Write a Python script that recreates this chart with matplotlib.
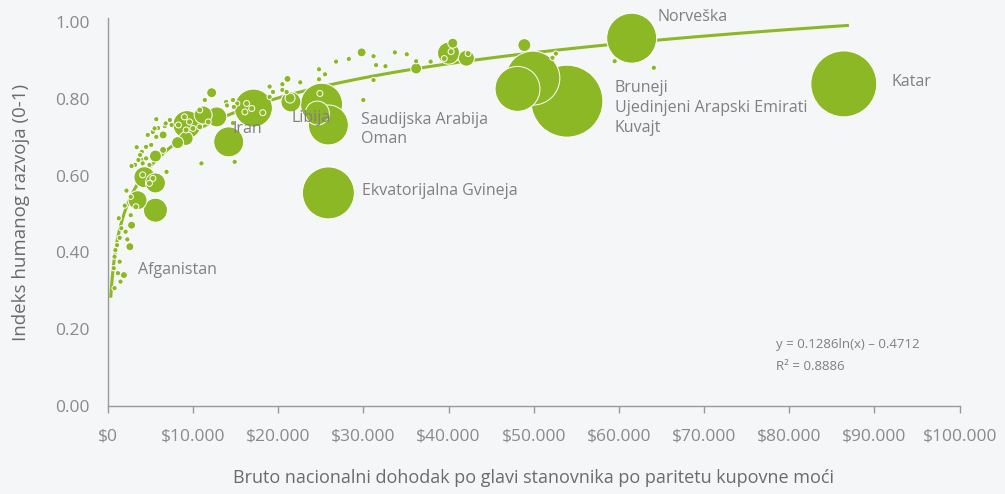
import matplotlib
matplotlib.use("Agg")
import matplotlib.pyplot as plt
import numpy as np
from matplotlib.ticker import FuncFormatter, MultipleLocator

# Bruto nacionalni dohodak po glavi (PPP, $), indeks humanog razvoja, velicina mjehurica
bdp_veliki = [61500, 86400, 53900, 49900, 48100, 25900, 25900, 25100, 24600, 21500,
              21400, 17100, 14200, 9300, 12800, 11200, 12200, 9200, 8200, 5600,
              6500, 6500, 4300, 5600, 3500, 5600, 2800, 2600, 1900, 29800,
              40000, 40500, 42100, 36200, 48900, 21100]
hdi_veliki = [0.958, 0.839, 0.794, 0.854, 0.826, 0.555, 0.732, 0.786, 0.763, 0.792,
              0.802, 0.776, 0.688, 0.733, 0.753, 0.758, 0.816, 0.697, 0.686, 0.651,
              0.706, 0.667, 0.596, 0.581, 0.536, 0.510, 0.471, 0.415, 0.341, 0.921,
              0.919, 0.945, 0.906, 0.879, 0.940, 0.852]
vel_veliki = [625, 1089, 1296, 729, 506, 676, 400, 441, 144, 100,
              25, 361, 225, 196, 100, 81, 25, 49, 36, 36,
              16, 12, 110, 100, 90, 144, 16, 16, 12, 20,
              121, 25, 64, 30, 42, 12]

# mali mjehurici unutar skupina (vide se kao bijeli prstenovi)
bdp_prsten = [8300, 9000, 9600, 9200, 10000, 10800, 11800, 10800, 16300, 16900,
              16100, 18200, 4100, 5300, 4900, 3300, 24900, 40300, 39500, 42300]
hdi_prsten = [0.732, 0.753, 0.740, 0.719, 0.723, 0.727, 0.740, 0.771, 0.788, 0.775,
              0.766, 0.764, 0.602, 0.593, 0.580, 0.519, 0.814, 0.923, 0.905, 0.918]

# male tocke
bdp_male = [11000, 14900, 6900, 5700, 7300, 7500, 6700, 5900, 5300, 4700,
            5700, 5100, 4500, 4000, 3400, 3800, 4100, 3200, 4900, 11400,
            13900, 14700, 19000, 19400, 19000, 14700, 26800, 28300, 31200, 31500,
            32600, 31200, 30000, 24800, 25500, 24800, 22600, 20500, 20500, 21000,
            33700, 35100, 36200, 37900, 52600, 52200, 59500, 64100, 15200, 14000,
            14800, 1200, 800, 1400, 1100, 1400, 2300, 1600, 2100, 1300,
            2700, 2000, 2700, 2200, 2800, 3800, 5500, 6800, 800, 1500,
            700, 900, 4500, 4100, 3600]
hdi_male = [0.632, 0.636, 0.610, 0.747, 0.745, 0.732, 0.729, 0.724, 0.714, 0.706,
            0.701, 0.680, 0.675, 0.662, 0.674, 0.646, 0.641, 0.628, 0.628, 0.797,
            0.792, 0.797, 0.832, 0.818, 0.805, 0.737, 0.897, 0.904, 0.911, 0.888,
            0.885, 0.849, 0.797, 0.877, 0.864, 0.851, 0.843, 0.838, 0.823, 0.818,
            0.921, 0.916, 0.898, 0.897, 0.918, 0.907, 0.898, 0.881, 0.788, 0.783,
            0.779, 0.346, 0.389, 0.376, 0.419, 0.438, 0.434, 0.463, 0.454, 0.489,
            0.497, 0.522, 0.545, 0.561, 0.625, 0.654, 0.723, 0.736, 0.307, 0.324,
            0.359, 0.406, 0.645, 0.632, 0.641]

# oznake drzava (tekst, bdp, hdi)
oznake = [
    ("Norveška", 64500, 1.013),
    ("Katar", 92000, 0.844),
    ("Bruneji", 59500, 0.828),
    ("Ujedinjeni Arapski Emirati", 59500, 0.776),
    ("Kuvajt", 59500, 0.725),
    ("Saudijska Arabija", 29700, 0.745),
    ("Oman", 29700, 0.695),
    ("Ekvatorijalna Gvineja", 29800, 0.56),
    ("Libija", 21600, 0.75),
    ("Iran", 14600, 0.721),
    ("Afganistan", 3600, 0.354),
]

koef_a, koef_b = 0.1286, -0.4712
r2 = 0.8886

GREEN = "#8db825"
BG = "#f5f6f8"
TICK = "#8a8a8a"
LABEL = "#6b6b6b"
TEXT = "#808080"

plt.rcParams["font.family"] = ["Open Sans", "DejaVu Sans"]

fig = plt.figure(figsize=(10.05, 4.94), dpi=100, facecolor=BG)
ax = fig.add_axes([0.1072, 0.1781, 0.8477, 0.785])
ax.set_facecolor(BG)

bubble_scale = 2.07  # px^2 -> pt^2 (diameter)
x_all = np.array(bdp_veliki + bdp_prsten + bdp_male, dtype=float)
y_all = np.array(hdi_veliki + hdi_prsten + hdi_male, dtype=float)
v_all = np.array(vel_veliki + [9] * len(bdp_prsten) + [7] * len(bdp_male), dtype=float)
order = np.argsort(-v_all, kind="stable")
ax.scatter(x_all[order], y_all[order], s=v_all[order] * bubble_scale,
           c=GREEN, edgecolors="white", linewidths=0.7, zorder=3, clip_on=False)

# logaritamska linija trenda
xs = np.linspace(350, 87000, 600)
ax.plot(xs, koef_a * np.log(xs) + koef_b, color=GREEN, lw=2.2, zorder=2,
        solid_capstyle="butt")

for txt, x, y in oznake:
    ax.text(x, y, txt, fontsize=11.5, color=TEXT, va="center", ha="left", zorder=5)

ax.text(78400, 0.159, f"y = {koef_a}ln(x) \u2013 {abs(koef_b)}", fontsize=9.5, color=TEXT,
        va="center", ha="left")
ax.text(78400, 0.102, f"R\u00b2 = {r2}", fontsize=9.5, color=TEXT,
        va="center", ha="left")

ax.set_xlim(0, 100000)
ax.set_ylim(0, 1.01)
ax.xaxis.set_major_locator(MultipleLocator(10000))
ax.yaxis.set_major_locator(MultipleLocator(0.2))
ax.xaxis.set_major_formatter(FuncFormatter(lambda v, p: "$" + f"{int(round(v)):,}".replace(",", ".")))
ax.yaxis.set_major_formatter(FuncFormatter(lambda v, p: f"{v:.2f}"))

for s in ("top", "right"):
    ax.spines[s].set_visible(False)
for s in ("left", "bottom"):
    ax.spines[s].set_color("#9a9a9a")
    ax.spines[s].set_linewidth(1.0)

ax.tick_params(axis="x", direction="out", length=5, width=1, color="#9a9a9a",
               labelsize=12.5, labelcolor=TICK, pad=11)
ax.tick_params(axis="y", length=0, labelsize=12.5, labelcolor=TICK, pad=13)

ax.set_xlabel("Bruto nacionalni dohodak po glavi stanovnika po paritetu kupovne moći",
              fontsize=13, color=LABEL, labelpad=18)
ax.set_ylabel("Indeks humanog razvoja (0-1)", fontsize=13.5, color=LABEL, labelpad=18)

fig.savefig("out.png", dpi=100, facecolor=BG)
